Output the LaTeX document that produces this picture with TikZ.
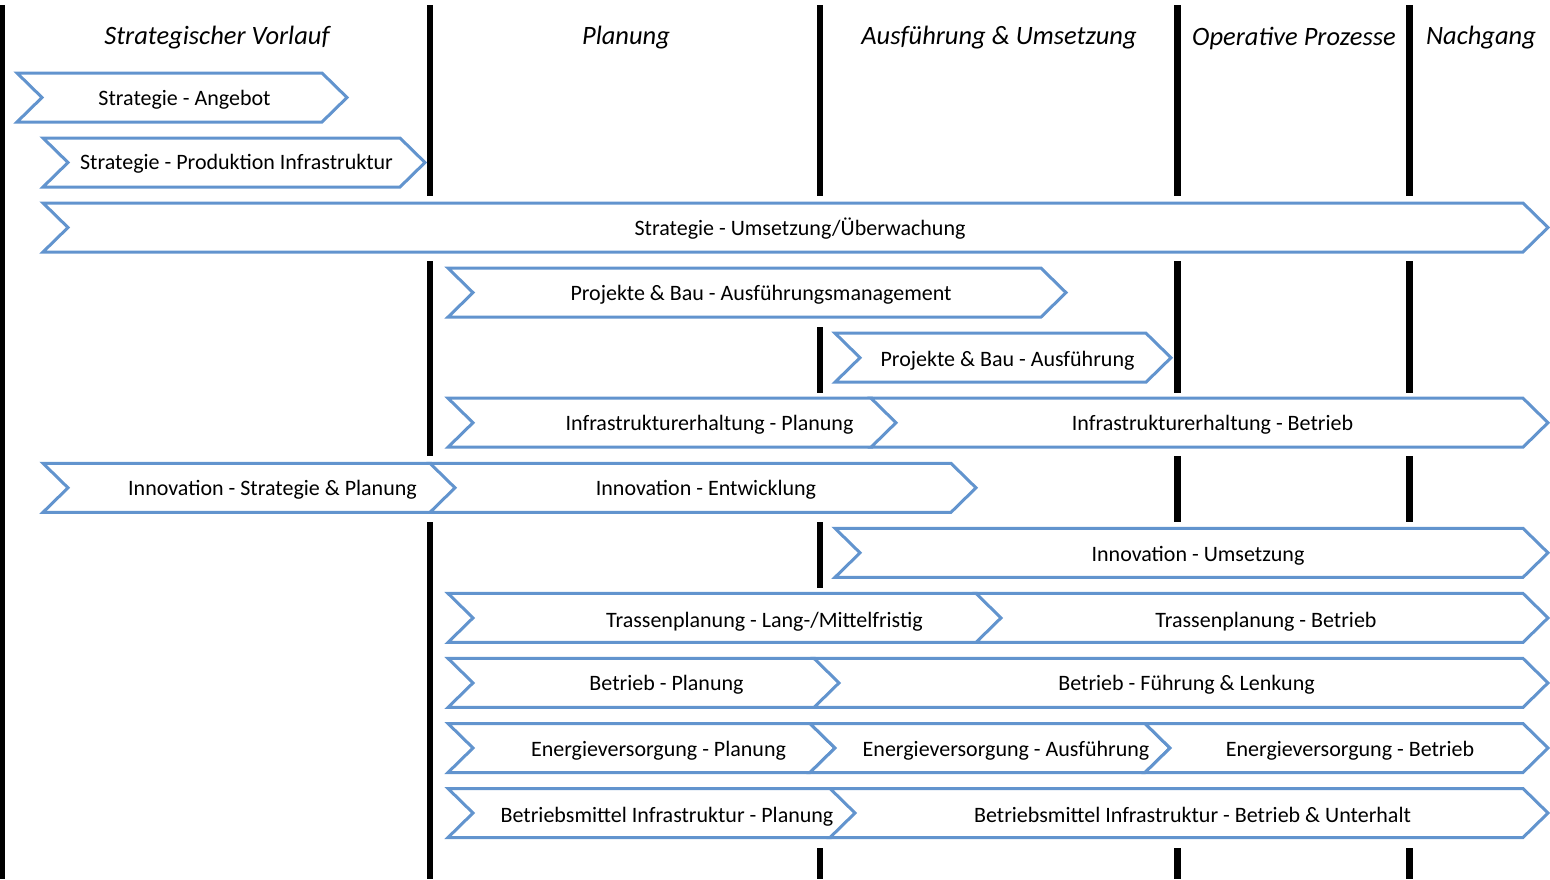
\documentclass[tikz,border=0pt]{standalone}
\usepackage{fontspec}
\setmainfont{Carlito}
\begin{document}
\begin{tikzpicture}[x=1pt,y=-1pt,
  bar/.style={line width=6.5pt,black},
  chev/.style={draw=chevblue,fill=white,line width=3pt,line join=miter},
  lbl/.style={inner sep=0pt,font=\fontsize{22}{26}\selectfont,anchor=center,
    text height=16pt,text depth=5pt,yshift=-2pt},
  head/.style={inner sep=0pt,font=\fontsize{26.5}{31}\selectfont\itshape,anchor=center,yshift=-2pt}]
\definecolor{chevblue}{RGB}{98,148,206}
\useasboundingbox (0,0) rectangle (1550,879);

% chevron from x=#1 to tip x=#2, centred on row y=#3
\newcommand\chevron[3]{%
  \draw[chev] (#1,#3-24.5) -- (#2-25,#3-24.5) -- (#2,#3) -- (#2-25,#3+24.5)
    -- (#1,#3+24.5) -- (#1+25,#3) -- cycle;}

% phase separators
\draw[line width=5pt] (2.5,5) -- (2.5,879);
\foreach \a/\b in {5/196,261/456,522/879} \draw[bar] (430,\a) -- (430,\b);
\foreach \a/\b in {5/196,327/393,522/588,848/879} \draw[bar] (820,\a) -- (820,\b);
\foreach \a/\b in {5/196,261/393,456/522,848/879} \draw[bar] (1177.5,\a) -- (1177.5,\b);
\foreach \a/\b in {5/196,261/393,456/522,848/879} \draw[bar] (1409.5,\a) -- (1409.5,\b);

% phase headings
\node[head] (h1) at (217,36) {Strategischer Vorlauf};
\node[head] (h2) at (626,36) {Planung};
\node[head] (h3) at (999,36) {Ausführung \& Umsetzung};
\node[head] (h4) at (1294,36) {Operative Prozesse};
\node[head] (h5) at (1481,36) {Nachgang};

% row 1
\chevron{17}{347}{97.5}
\node[lbl] (r1a) at (184.5,98) {Strategie - Angebot};
% row 2
\chevron{43}{425}{162.5}
\node[lbl] (r2a) at (236.5,162) {Strategie - Produktion Infrastruktur};
% row 3
\chevron{43}{1548}{227.5}
\node[lbl] (r3a) at (800,228) {Strategie - Umsetzung/Überwachung};
% row 4
\chevron{448}{1066}{292.6}
\node[lbl] (r4a) at (761,293) {Projekte \& Bau - Ausführungsmanagement};
% row 5
\chevron{835}{1171}{357.7}
\node[lbl] (r5a) at (1007.5,359) {Projekte \& Bau - Ausführung};
% row 6
\chevron{448}{897}{422.7}
\chevron{871}{1548}{422.7}
\node[lbl] (r6a) at (709.5,423) {Infrastrukturerhaltung - Planung};
\node[lbl] (r6b) at (1212.5,423) {Infrastrukturerhaltung - Betrieb};
% row 7
\chevron{43}{456}{487.8}
\chevron{430}{976}{487.8}
\node[lbl] (r7a) at (272.5,488) {Innovation - Strategie \& Planung};
\node[lbl] (r7b) at (706,488) {Innovation - Entwicklung};
% row 8
\chevron{835}{1548}{552.8}
\node[lbl] (r8a) at (1198,554) {Innovation - Umsetzung};
% row 9
\chevron{448}{1002}{617.9}
\chevron{976}{1548}{617.9}
\node[lbl] (r9a) at (764.5,620) {Trassenplanung - Lang-/Mittelfristig};
\node[lbl] (r9b) at (1266,620) {Trassenplanung - Betrieb};
% row 10
\chevron{448}{840}{682.9}
\chevron{814}{1548}{682.9}
\node[lbl] (r10a) at (666.5,683) {Betrieb - Planung};
\node[lbl] (r10b) at (1186.5,683) {Betrieb - Führung \& Lenkung};
% row 11
\chevron{448}{835}{748}
\chevron{810}{1170}{748}
\chevron{1145}{1548}{748}
\node[lbl] (r11a) at (658.5,749) {Energieversorgung - Planung};
\node[lbl] (r11b) at (1006,749) {Energieversorgung - Ausführung};
\node[lbl] (r11c) at (1350,749) {Energieversorgung - Betrieb};
% row 12
\chevron{448}{856}{813}
\chevron{830}{1548}{813}
\node[lbl] (r12a) at (667,815) {Betriebsmittel Infrastruktur - Planung};
\node[lbl] (r12b) at (1192.5,815) {Betriebsmittel Infrastruktur - Betrieb \& Unterhalt};
\end{tikzpicture}
\end{document}
